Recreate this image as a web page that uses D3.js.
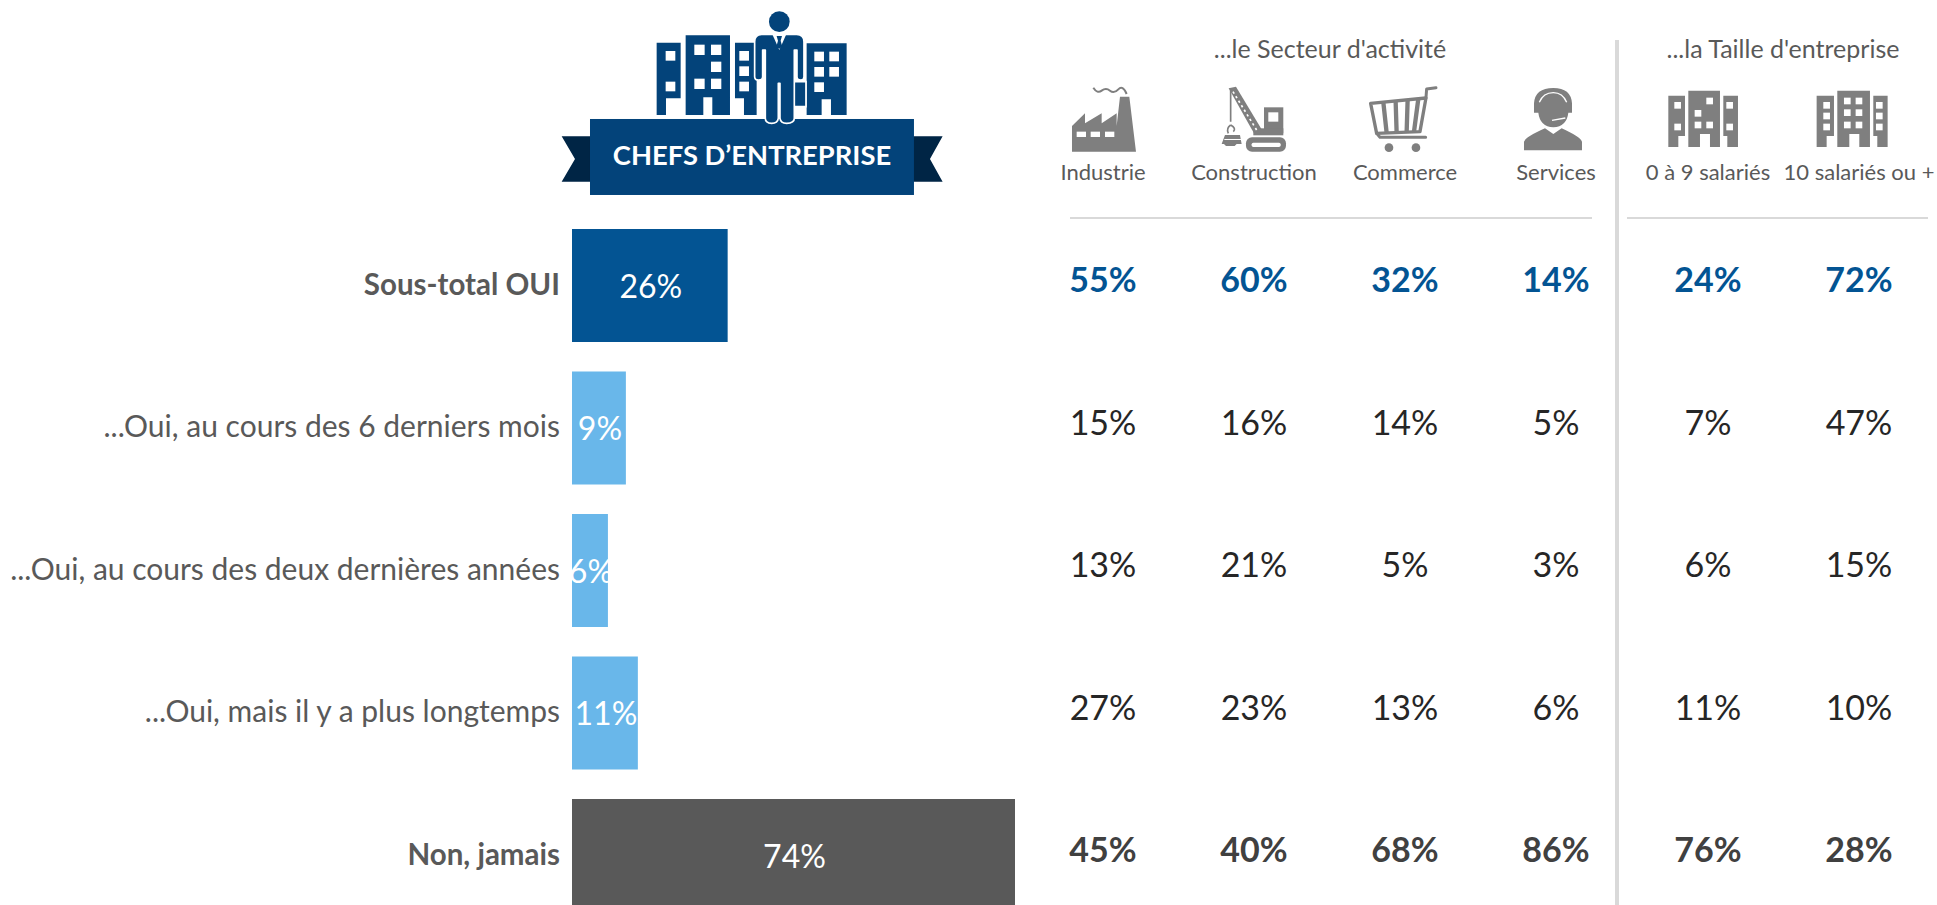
<!doctype html>
<html>

<head>
    <meta charset="utf-8">
    <script src="https://d3js.org/d3.v7.min.js"></script>
    <style>
        html, body { margin: 0; padding: 0; background: #fff; overflow: hidden; }
        text { font-family: Lato, "Open Sans", sans-serif; }
    </style>
</head>

<body>
    <div id="chart"></div>

    <script>
        // values
        var rows = ["Sous-total OUI", "...Oui, au cours des 6 derniers mois", "...Oui, au cours des deux dernières années", "...Oui, mais il y a plus longtemps", "Non, jamais"];
        var totals = [26, 9, 6, 11, 74];
        var columns = ["Industrie", "Construction", "Commerce", "Services", "0 à 9 salariés", "10 salariés ou +"];
        var industrie = [55, 15, 13, 27, 45];
        var construction = [60, 16, 21, 23, 40];
        var commerce = [32, 14, 5, 13, 68];
        var services = [14, 5, 3, 6, 86];
        var petites = [24, 7, 6, 11, 76];
        var grandes = [72, 47, 15, 10, 28];
        var columnValues = [industrie, construction, commerce, services, petites, grandes];
        var groups = ["...le Secteur d'activité", "...la Taille d'entreprise"];
        var banner = "CHEFS D’ENTREPRISE";

        var barColors = ["#035493", "#69b7ea", "#69b7ea", "#69b7ea", "#595959"];
        var valueColors = ["#035493", "#262626", "#262626", "#262626", "#404040"];
        var grey = "#7f7f7f";
        var navy = "#03437a";

        var width = 1937, height = 905;

        var svg = d3.select("#chart").append("svg")
            .attr("width", width)
            .attr("height", height);

        var x = d3.scaleLinear().domain([0, 74]).range([572, 1015]);
        var y = d3.scaleBand().domain(rows).range([214.25, 926.75]).paddingInner(0.207).paddingOuter(0.1035);
        var col = d3.scalePoint().domain(columns.slice(0, 4)).range([1103, 1556]);
        var col2 = d3.scalePoint().domain(columns.slice(4)).range([1708, 1859]);
        function colX(c) { return columns.indexOf(c) < 4 ? col(c) : col2(c); }

        // bars
        svg.selectAll(".bar")
            .data(rows)
            .enter().append("rect")
            .attr("class", "bar")
            .attr("x", x(0))
            .attr("y", function (d) { return y(d); })
            .attr("width", function (d, i) { return x(totals[i]) - x(0); })
            .attr("height", y.bandwidth())
            .attr("fill", function (d, i) { return barColors[i]; });

        svg.selectAll(".barlabel")
            .data(rows)
            .enter().append("text")
            .attr("class", "barlabel")
            .attr("x", function (d, i) { return (x(0) + x(totals[i])) / 2 + 1; })
            .attr("y", function (d) { return y(d) + y.bandwidth() / 2 + 12; })
            .attr("text-anchor", "middle")
            .attr("font-size", 32)
            .attr("fill", "#fff")
            .text(function (d, i) { return totals[i] + "%"; });

        svg.selectAll(".rowlabel")
            .data(rows)
            .enter().append("text")
            .attr("class", "rowlabel")
            .attr("x", 560)
            .attr("y", function (d) { return y(d) + y.bandwidth() / 2 + 9; })
            .attr("text-anchor", "end")
            .attr("font-size", function (d, i) { return i == 0 || i == 4 ? 29.5 : 30; })
            .attr("font-weight", function (d, i) { return i == 0 || i == 4 ? 700 : 400; })
            .attr("fill", "#595959")
            .text(function (d) { return d; });

        // value table
        columns.forEach(function (c, k) {
            svg.selectAll(".v" + k)
                .data(columnValues[k])
                .enter().append("text")
                .attr("class", "v" + k)
                .attr("x", colX(c))
                .attr("y", function (d, i) { return y(rows[i]) + y.bandwidth() / 2 + 6.5; })
                .attr("text-anchor", "middle")
                .attr("font-size", 34)
                .attr("font-weight", function (d, i) { return i == 0 || i == 4 ? 700 : 400; })
                .attr("fill", function (d, i) { return valueColors[i]; })
                .text(function (d) { return d + "%"; });

            svg.append("text")
                .attr("x", colX(c))
                .attr("y", 180)
                .attr("text-anchor", "middle")
                .attr("font-size", 22)
                .attr("fill", "#595959")
                .text(c);
        });

        svg.selectAll(".group")
            .data(groups)
            .enter().append("text")
            .attr("class", "group")
            .attr("x", function (d, i) { return i == 0 ? 1330 : 1783; })
            .attr("y", 58)
            .attr("text-anchor", "middle")
            .attr("font-size", 25)
            .attr("fill", "#595959")
            .text(function (d) { return d; });

        // rules
        svg.append("rect").attr("x", 1070).attr("y", 217).attr("width", 522).attr("height", 2).attr("fill", "#d9d9d9");
        svg.append("rect").attr("x", 1627).attr("y", 217).attr("width", 301).attr("height", 2).attr("fill", "#d9d9d9");
        svg.append("rect").attr("x", 1615).attr("y", 40).attr("width", 4).attr("height", 865).attr("fill", "#d9d9d9");

        // banner, drawn in the 3x coordinates of the crop
        var ban = svg.append("g").attr("transform", "translate(540,0) scale(0.3333)");
        ban.append("path").attr("fill", "#002545").attr("d", "M65,409H160V545H65L105,477Z");
        ban.append("path").attr("fill", "#002545").attr("d", "M1208,409H1110V545H1208L1170,477Z");
        ban.append("rect").attr("x", 150).attr("y", 357).attr("width", 972).attr("height", 228).attr("fill", navy);
        ban.append("text").attr("x", 636).attr("y", 496).attr("text-anchor", "middle")
            .attr("font-size", 82).attr("font-weight", 700).attr("fill", "#fff").text(banner);

        function windows(g, list, w, h) {
            g.selectAll(null).data(list).enter().append("rect")
                .attr("x", function (d) { return d[0]; })
                .attr("y", function (d) { return d[1]; })
                .attr("width", w).attr("height", h).attr("fill", "#fff");
        }

        // buildings behind the man
        ban.append("path").attr("fill", navy).attr("d", "M350,128H422V295H378V345H350Z");
        ban.append("path").attr("fill", navy).attr("d", "M437,106H570V345H517V292H490V345H437Z");
        ban.append("path").attr("fill", navy).attr("d", "M585,128H650V345H612V295H585Z");
        ban.append("path").attr("fill", navy).attr("d", "M800,130H920V345H873V298H845V345H800Z");
        windows(ban, [[377, 153], [377, 245], [598, 153], [598, 199], [598, 245], [823, 155], [868, 155], [823, 201], [868, 201], [823, 247]], 29, 29);
        windows(ban, [[463, 134], [513, 134], [513, 185], [463, 236], [513, 236]], 31, 31);

        // man with briefcase
        ban.append("circle").attr("cx", 718).attr("cy", 65).attr("r", 31).attr("fill", navy);
        ban.append("path").attr("fill", navy).attr("stroke", "#fff").attr("stroke-width", 5)
            .attr("d", "M762,245H798V320H762Z");
        ban.append("path").attr("fill", navy).attr("stroke", "#fff").attr("stroke-width", 5).attr("stroke-linejoin", "round")
            .attr("d", "M665,103H770Q792,103 792,125V230Q792,240 783,240Q771,240 771,230V150H763V355Q763,370 740,370Q722,370 720,355V250H715V355Q713,370 695,370Q676,370 676,355V150H668V230Q668,240 656,240Q644,240 644,230V125Q644,103 665,103Z");
        ban.append("path").attr("fill", "#fff").attr("d", "M698,105H738L718,150Z");
        ban.append("path").attr("fill", navy).attr("d", "M710,108H726L722,122L727,140L718,146L709,140L714,122Z");

        // factory
        var icons = svg.append("g").attr("transform", "translate(1040,20) scale(0.3333)");
        icons.append("path").attr("fill", grey)
            .attr("d", "M96,395V318L135,280V310L185,280V310L230,280V318L240,230H268L288,395Z");
        windows(icons, [[110, 335], [152, 335], [195, 335]], 28, 16);
        icons.append("path").attr("fill", "none").attr("stroke", grey).attr("stroke-width", 6)
            .attr("d", "M160,203Q172,222 185,212T210,212T235,208T260,222");

        // crane
        icons.append("rect").attr("x", 618).attr("y", 352).attr("width", 120).attr("height", 43).attr("rx", 18).attr("fill", grey);
        icons.append("rect").attr("x", 635).attr("y", 368).attr("width", 87).attr("height", 13).attr("rx", 5).attr("fill", "#fff");
        icons.append("path").attr("fill", grey).attr("d", "M672,262H730V340H672Z");
        icons.append("rect").attr("x", 685).attr("y", 277).attr("width", 30).attr("height", 28).attr("fill", "#fff");
        icons.append("path").attr("fill", grey).attr("d", "M640,325H730V346H640Z");
        icons.append("path").attr("fill", grey).attr("d", "M566,205L588,200L672,340L645,345Z");
        icons.append("path").attr("stroke", "#fff").attr("stroke-width", 5).attr("stroke-dasharray", "7 9").attr("d", "M579,215L650,330");
        icons.append("path").attr("stroke", grey).attr("stroke-width", 5).attr("fill", "none")
            .attr("d", "M572,208V305M572,315Q590,325 580,335M572,315Q558,325 565,340");
        icons.append("path").attr("fill", grey).attr("d", "M555,345H600L605,372H590L584,378H558L552,372H545Z");
        icons.append("rect").attr("x", 553).attr("y", 357).attr("width", 50).attr("height", 3).attr("fill", "#fff");

        // cart
        icons.append("path").attr("fill", "none").attr("stroke", grey).attr("stroke-width", 10).attr("stroke-linejoin", "round")
            .attr("d", "M992,250L1158,234L1140,335L1010,340Z");
        icons.append("path").attr("fill", "none").attr("stroke", grey).attr("stroke-width", 13)
            .attr("d", "M1030,246L1040,338M1067,243L1070,338M1103,240L1100,337M1135,237L1122,336");
        icons.append("path").attr("fill", "none").attr("stroke", grey).attr("stroke-width", 9).attr("stroke-linecap", "round").attr("stroke-linejoin", "round")
            .attr("d", "M1010,340L1020,352H1157M1158,234L1160,207L1188,203");
        icons.append("circle").attr("cx", 1047).attr("cy", 383).attr("r", 13).attr("fill", grey);
        icons.append("circle").attr("cx", 1128).attr("cy", 383).attr("r", 13).attr("fill", grey);

        // headset man, crop at (1500,70)
        var head = svg.append("g").attr("transform", "translate(1500,70) scale(0.3333)");
        head.append("path").attr("fill", grey)
            .attr("d", "M72,241V215Q78,200 135,175L160,192L185,175Q240,200 246,215V241Z");
        head.append("path").attr("fill", grey)
            .attr("d", "M102,128V100Q105,54 160,54Q213,54 216,100V128H205Q200,170 160,172Q120,170 115,128Z");
        head.append("path").attr("fill", "none").attr("stroke", "#fff").attr("stroke-width", 4).attr("d", "M118,97Q130,68 160,68Q188,68 200,97");
        head.append("path").attr("fill", "none").attr("stroke", "#fff").attr("stroke-width", 4).attr("d", "M156,151L196,144");

        // small buildings, crop at (1540,20)
        var small = svg.append("g").attr("transform", "translate(1540,20) scale(0.3333)");
        small.append("path").attr("fill", grey).attr("d", "M385,227H435V348H415V381H385Z");
        small.append("path").attr("fill", grey).attr("d", "M445,212H540V381H510V342H480V381H445Z");
        small.append("path").attr("fill", grey).attr("d", "M550,227H594V381H562V348H550Z");
        windows(small, [[403, 246], [403, 311], [464, 270], [464, 305], [499, 233], [499, 305], [559, 246], [559, 311]], 20, 20);
        small.append("path").attr("fill", grey).attr("d", "M830,227H882V348H860V381H830Z");
        small.append("path").attr("fill", grey).attr("d", "M892,212H990V381H958V342H928V381H892Z");
        small.append("path").attr("fill", grey).attr("d", "M1000,227H1043V381H1012V348H1000Z");
        windows(small, [[850, 246], [850, 278], [850, 311], [912, 233], [947, 233], [912, 268], [947, 268], [912, 305], [947, 305], [1008, 246], [1008, 278], [1008, 311]], 20, 20);
    </script>
</body>

</html>
